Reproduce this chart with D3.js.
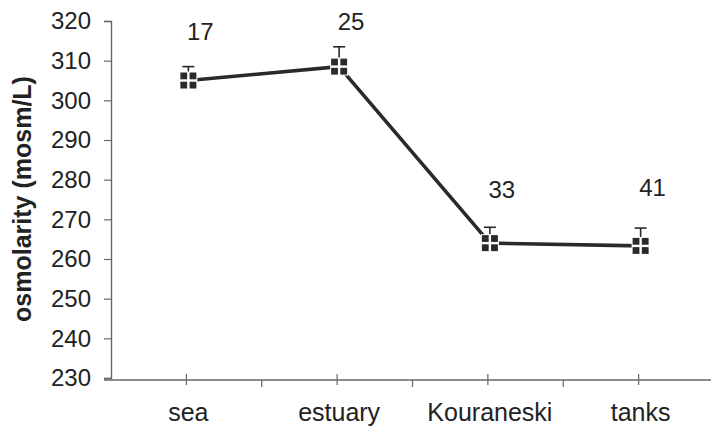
<!DOCTYPE html>
<html>
<head>
<meta charset="utf-8">
<script src="https://cdn.jsdelivr.net/npm/d3@7"></script>
<style>
  html, body { margin: 0; padding: 0; background: #fff; }
  svg { display: block; font-family: "Liberation Sans", Arial, sans-serif; }
</style>
</head>
<body>
<svg id="chart" width="711" height="433"></svg>
<script>
// Osmolarity by site, mean with upper error, plus sample counts above points
const sites = ["sea", "estuary", "Kouraneski", "tanks"];
const osmolarity = [305, 308.5, 264, 263.3];
const errUpper = [3.5, 5, 4, 4.5];
const sampleN = ["17", "25", "33", "41"];
const yTicks = [230, 240, 250, 260, 270, 280, 290, 300, 310, 320];

const svg = d3.select("#chart");
const plotLeft = 111, plotRight = 714, plotTop = 21, plotBottom = 378;
const ink = "#2a2a2a";

const x = d3.scaleBand().domain(sites).range([plotLeft, plotRight]).padding(0);
const y = d3.scaleLinear().domain([230, 320]).range([plotBottom, plotTop]);

// y axis
const yAxis = svg.append("g")
  .attr("transform", `translate(${plotLeft},0)`)
  .call(d3.axisLeft(y).tickValues(yTicks).tickSize(7).tickPadding(13).tickFormat(d3.format("d")));
yAxis.select(".domain").attr("stroke", "#666").attr("stroke-width", 1.4);
yAxis.selectAll(".tick line").attr("stroke", "#666").attr("stroke-width", 1.2);
yAxis.selectAll(".tick text").attr("font-size", 24).attr("fill", "#222")
  .attr("font-family", "'Liberation Sans', Arial, sans-serif");

// x axis line
svg.append("line")
  .attr("x1", plotLeft - 7).attr("x2", 711)
  .attr("y1", plotBottom + 2).attr("y2", plotBottom + 2)
  .attr("stroke", "#666").attr("stroke-width", 1.4);

// ticks at category centres (crossing) and at boundaries (downward)
svg.selectAll(".ctick").data(sites).enter().append("line")
  .attr("x1", d => x(d) + x.bandwidth() / 2).attr("x2", d => x(d) + x.bandwidth() / 2)
  .attr("y1", plotBottom - 4).attr("y2", plotBottom + 7)
  .attr("stroke", "#666").attr("stroke-width", 1.2);
svg.selectAll(".btick").data(sites.slice(1)).enter().append("line")
  .attr("x1", d => x(d)).attr("x2", d => x(d))
  .attr("y1", plotBottom + 2).attr("y2", plotBottom + 9)
  .attr("stroke", "#666").attr("stroke-width", 1.2);

// category labels
svg.selectAll(".xlab").data(sites).enter().append("text")
  .attr("x", d => x(d) + x.bandwidth() / 2 + 2)
  .attr("y", 421)
  .attr("text-anchor", "middle")
  .attr("font-size", 25).attr("fill", "#222")
  .text(d => d);

// y title
svg.append("text")
  .attr("transform", "translate(31,199) rotate(-90)")
  .attr("text-anchor", "middle")
  .attr("font-size", 25).attr("font-weight", "bold").attr("fill", "#222")
  .text("osmolarity (mosm/L)");

const cx = i => x(sites[i]) + x.bandwidth() / 2 + 2;

// connecting line
const line = d3.line().x((d, i) => cx(i)).y(d => y(d));
svg.append("path")
  .datum(osmolarity)
  .attr("d", line)
  .attr("fill", "none")
  .attr("stroke", ink)
  .attr("stroke-width", 3.6)
  .attr("stroke-linejoin", "round");

// upper error bars
osmolarity.forEach((v, i) => {
  const px = cx(i);
  svg.append("line")
    .attr("x1", px).attr("x2", px)
    .attr("y1", y(v)).attr("y2", y(v + errUpper[i]))
    .attr("stroke", ink).attr("stroke-width", 1.6);
  svg.append("line")
    .attr("x1", px - 6).attr("x2", px + 6)
    .attr("y1", y(v + errUpper[i])).attr("y2", y(v + errUpper[i]))
    .attr("stroke", ink).attr("stroke-width", 1.6);
});

// square markers with a white cross
const half = 8, gap = 1.2;
osmolarity.forEach((v, i) => {
  const px = cx(i), py = y(v);
  const g = svg.append("g");
  g.append("rect")
    .attr("x", px - half - 1).attr("y", py - half - 1)
    .attr("width", 2 * half + 2).attr("height", 2 * half + 2)
    .attr("fill", "#fff");
  [[-1, -1], [1, -1], [-1, 1], [1, 1]].forEach(([sx, sy]) => {
    g.append("rect")
      .attr("x", sx < 0 ? px - half : px + gap)
      .attr("y", sy < 0 ? py - half : py + gap)
      .attr("width", half - gap).attr("height", half - gap)
      .attr("fill", ink);
  });
});

// sample counts
const labelY = [40, 30, 198, 196];
sampleN.forEach((t, i) => {
  svg.append("text")
    .attr("x", cx(i) + 12)
    .attr("y", labelY[i])
    .attr("text-anchor", "middle")
    .attr("font-size", 24).attr("fill", "#222")
    .text(t);
});
</script>
</body>
</html>
